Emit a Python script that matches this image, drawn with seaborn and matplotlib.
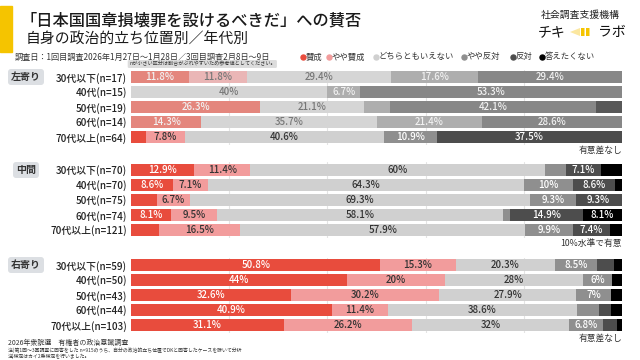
import numpy as np
import pandas as pd
import matplotlib
matplotlib.use('Agg')
import matplotlib.pyplot as plt
import matplotlib.colors as mcolors
from matplotlib.patches import Rectangle, Polygon, FancyBboxPatch
from matplotlib.lines import Line2D
import seaborn as sns

# data (percent)
categories = ['賛成', 'やや賛成', 'どちらともいえない', 'やや反対', '反対', '答えたくない']

left_rows = ['30代以下(n=17)', '40代(n=15)', '50代(n=19)', '60代(n=14)', '70代以上(n=64)']
left_vals = [[11.8, 11.8, 29.4, 17.6, 29.4, 0],
             [0, 0, 40, 6.7, 53.3, 0],
             [26.3, 0, 21.1, 5.3, 42.1, 5.3],
             [14.3, 0, 35.7, 21.4, 28.6, 0],
             [3.1, 7.8, 40.6, 10.9, 37.5, 0]]
left_small = [True, True, True, True, False]

mid_rows = ['30代以下(n=70)', '40代(n=70)', '50代(n=75)', '60代(n=74)', '70代以上(n=121)']
mid_vals = [[12.9, 11.4, 60, 4.3, 7.1, 4.3],
            [8.6, 7.1, 64.3, 10, 8.6, 1.4],
            [5.3, 6.7, 69.3, 9.3, 9.3, 0],
            [8.1, 9.5, 58.1, 1.4, 14.9, 8.1],
            [5.8, 16.5, 57.9, 9.9, 7.4, 2.5]]
mid_small = [False] * 5

right_rows = ['30代以下(n=59)', '40代(n=50)', '50代(n=43)', '60代(n=44)', '70代以上(n=103)']
right_vals = [[50.8, 15.3, 20.3, 8.5, 3.4, 1.7],
              [44, 20, 28, 6, 0, 2],
              [32.6, 30.2, 27.9, 7, 0, 2.3],
              [40.9, 11.4, 38.6, 4.5, 2.3, 2.3],
              [31.1, 26.2, 32, 6.8, 2.9, 1.0]]
right_small = [False] * 5

group_names = ['左寄り', '中間', '右寄り']
group_notes = ['有意差なし', '10%水準で有意', '有意差なし']

sns.set_style('white')
plt.rcParams['font.family'] = ['Noto Sans CJK JP', 'DejaVu Sans']

colors = ['#e84c3d', '#f29c9c', '#d0d0d0', '#8f8f8f', '#4d4d4d', '#000000']
text_colors = ['white', '#333333', '#333333', 'white', 'white', 'white']


def fade(c, a=0.6, bg='#dddddd'):
    c = np.array(mcolors.to_rgb(c))
    b = np.array(mcolors.to_rgb(bg))
    return tuple(a * c + (1 - a) * b)


def fx(x):
    return x / 640


def fy(y):
    return 1 - y / 360


fig = plt.figure(figsize=(6.4, 3.6), dpi=100)

# axes: (top px, bottom px)
spans = [(69.5, 144.5), (162.5, 237.5), (257.5, 332.5)]
groups = [(left_rows, left_vals, left_small),
          (mid_rows, mid_vals, mid_small),
          (right_rows, right_vals, right_small)]

for gi, ((top, bot), (rows, vals, small)) in enumerate(zip(spans, groups)):
    ax = fig.add_axes([fx(131), fy(bot), fx(622) - fx(131), (bot - top) / 360])
    df = pd.DataFrame(vals, columns=categories)
    cum = df.cumsum(axis=1)
    for gx in [20, 40, 60, 80]:
        ax.axvline(gx, color='#e4e4e4', lw=0.8, zorder=0)
    # stacked bars: draw cumulative totals from the last category backwards
    for i in range(len(categories) - 1, -1, -1):
        pal = {r: (fade(colors[i]) if s else colors[i]) for r, s in zip(rows, small)}
        d = pd.DataFrame({'row': rows, 'end': cum[categories[i]].values})
        sns.barplot(data=d, x='end', y='row', hue='row', palette=pal, order=rows,
                    hue_order=rows, orient='h', width=0.74, dodge=False, legend=False,
                    saturation=1, linewidth=0, antialiased=False, ax=ax)
    # value labels
    for r in range(len(rows)):
        for i, cat in enumerate(categories):
            v = vals[r][i]
            if v < 6:
                continue
            xc = cum.iloc[r, i] - v / 2
            tc = fade(text_colors[i]) if small[r] else text_colors[i]
            ax.text(xc, r, f'{v:g}%', ha='center', va='center', fontsize=7,
                    color=tc, fontweight='medium')
    ax.set_xlim(0, 100)
    ax.set_xticks([])
    ax.set_xlabel('')
    ax.set_ylabel('')
    ax.tick_params(axis='y', length=0, pad=3, labelsize=7.1, labelcolor='#222222')
    for lab in ax.get_yticklabels():
        lab.set_fontweight('medium')
    sns.despine(ax=ax, left=True, bottom=True)

    # group tag and significance note
    fig.text(fx(26), fy(top + 7.5), group_names[gi], ha='center', va='center',
             fontsize=7.2, fontweight='bold', color='#333333',
             bbox=dict(boxstyle='round,pad=0.3', fc='#dcdfe3', ec='none'))
    fig.text(fx(622), fy(bot + 6), group_notes[gi], ha='right', va='center',
             fontsize=6.3, color='#333333')

# header
fig.patches.append(Rectangle((0, fy(52)), fx(12), 46 / 360, transform=fig.transFigure,
                             color='#f5c400', zorder=0))
fig.text(fx(21), fy(21), '「日本国国章損壊罪を設けるべきだ」への賛否', fontsize=11.7,
         fontweight='medium', va='center', color='#1a1a1a')
fig.text(fx(26), fy(40), '自身の政治的立ち位置別／年代別', fontsize=10.7, va='center',
         color='#1a1a1a')
fig.text(fx(15), fy(57), '調査日：1回目調査2026年1月27日～1月28日／3回目調査2月8日～9日',
         fontsize=5.9, va='center', color='#333333')
fig.text(fx(129), fy(64), 'nが小さい区分は割合がぶれやすいため参考値としてください。',
         fontsize=3.7, va='center', color='#333333',
         bbox=dict(boxstyle='round,pad=0.25', fc='#dcdcdc', ec='none'))

# legend
leg_x = [300, 326, 373, 461, 510, 539]
for lx, cat, col in zip(leg_x, categories, colors):
    fig.add_artist(Line2D([fx(lx + 2.5)], [fy(57)], marker='o', markersize=3.6,
                          color=col, lw=0, transform=fig.transFigure))
    fig.text(fx(lx + 5.5), fy(57), cat, fontsize=6, color='#333333', va='center')

# logo
fig.text(fx(580), fy(15), '社会調査支援機構', fontsize=7.1, ha='center', va='center',
         color='#222222')
fig.text(fx(538), fy(32), 'チキ', fontsize=10, va='center', color='#111111')
fig.text(fx(598), fy(32), 'ラボ', fontsize=10, va='center', color='#111111')
fig.patches.append(Polygon([(fx(570), fy(32)), (fx(580), fy(28)), (fx(580), fy(36))],
                           closed=True, transform=fig.transFigure, fc='#fbe7a0', ec='none'))
for bx in [581, 586]:
    fig.patches.append(FancyBboxPatch((fx(bx), fy(36)), fx(3.5), 8 / 360,
                                      boxstyle='round,pad=0.0', transform=fig.transFigure,
                                      fc='#f5c400', ec='none'))

# footer
fig.text(fx(8), fy(343), '2026年衆院選　有権者の政治意識調査', fontsize=5, va='center',
         color='#333333')
fig.text(fx(8), fy(350), '注)第1回～3回調査に回答をした n=915のうち、自分の政治的立ち位置でDKと回答したケースを除いて分析',
         fontsize=3.5, va='center', color='#333333')
fig.text(fx(8), fy(356), '注)検定はカイ2乗検定を行いました。', fontsize=3.5, va='center',
         color='#333333')

fig.savefig('out.png', dpi=100)
